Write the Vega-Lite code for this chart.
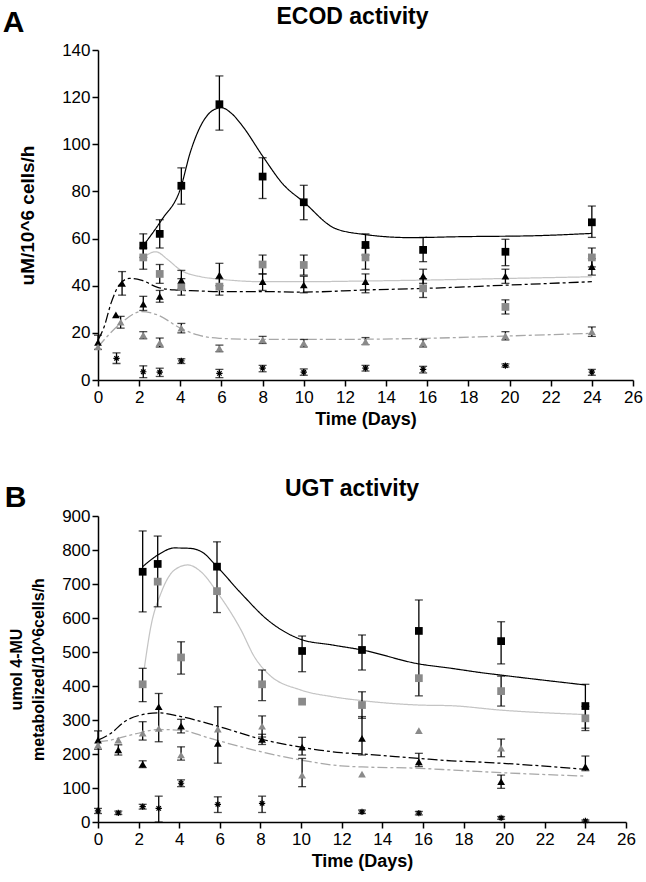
{
  "$schema": "https://vega.github.io/schema/vega-lite/v6.json",
  "background": "white",
  "padding": {"left": 2, "top": 6, "right": 0, "bottom": 5},
  "spacing": 50,
  "config": {
    "view": {"stroke": null},
    "font": "Liberation Sans",
    "title": {"font": "Liberation Sans", "fontWeight": "bold", "color": "black"},
    "axis": {
      "grid": false,
      "domainColor": "black",
      "domainWidth": 1.5,
      "tickColor": "black",
      "tickWidth": 1.5,
      "tickSize": 6,
      "labelFont": "Liberation Sans",
      "labelFontSize": 17,
      "labelColor": "black",
      "labelPadding": 2,
      "titleFont": "Liberation Sans",
      "titleFontWeight": "bold",
      "titleColor": "black"
    }
  },
  "datasets": {
    "ptsA": [
      {"s": "sqk", "d": 2.2, "v": 57, "lo": 52, "hi": 62},
      {"s": "sqk", "d": 3.0, "v": 62, "lo": 56, "hi": 68},
      {"s": "sqk", "d": 4.05, "v": 82.4, "lo": 74.6, "hi": 90},
      {"s": "sqk", "d": 5.9, "v": 117, "lo": 106, "hi": 129},
      {"s": "sqk", "d": 8.0, "v": 86.3, "lo": 77, "hi": 94.3},
      {"s": "sqk", "d": 10.0, "v": 75.4, "lo": 68, "hi": 82.6},
      {"s": "sqk", "d": 13.0, "v": 57.3, "lo": 53, "hi": 62},
      {"s": "sqk", "d": 15.8, "v": 55.2, "lo": 50.2, "hi": 60.5},
      {"s": "sqk", "d": 19.8, "v": 54.4, "lo": 48.5, "hi": 59.7},
      {"s": "sqk", "d": 24.0, "v": 66.9, "lo": 60.5, "hi": 73.8},
      {"s": "sqg", "d": 2.2, "v": 52, "lo": 47, "hi": 56},
      {"s": "sqg", "d": 3.0, "v": 45, "lo": 41, "hi": 49},
      {"s": "sqg", "d": 4.05, "v": 39.5, "lo": 36, "hi": 43},
      {"s": "sqg", "d": 5.9, "v": 39.6, "lo": 36, "hi": 43},
      {"s": "sqg", "d": 8.0, "v": 49, "lo": 45, "hi": 53},
      {"s": "sqg", "d": 10.0, "v": 48.8, "lo": 44.5, "hi": 53},
      {"s": "sqg", "d": 13.0, "v": 52, "lo": 47, "hi": 56},
      {"s": "sqg", "d": 15.8, "v": 38.9, "lo": 35, "hi": 43},
      {"s": "sqg", "d": 19.8, "v": 31, "lo": 28, "hi": 34},
      {"s": "sqg", "d": 24.0, "v": 52, "lo": 48, "hi": 56},
      {"s": "trk", "d": 0, "v": 16, "lo": 13, "hi": 19},
      {"s": "trk", "d": 0.87, "v": 27.6, "lo": null, "hi": null},
      {"s": "trk", "d": 1.17, "v": 41, "lo": 36, "hi": 46},
      {"s": "trk", "d": 2.2, "v": 32.2, "lo": 29.5, "hi": 35.5},
      {"s": "trk", "d": 3.0, "v": 35.5, "lo": 33, "hi": 38},
      {"s": "trk", "d": 4.05, "v": 42.4, "lo": 38.5, "hi": 46.5},
      {"s": "trk", "d": 5.9, "v": 44.5, "lo": 40, "hi": 49.5},
      {"s": "trk", "d": 8.0, "v": 41.7, "lo": 38, "hi": 45},
      {"s": "trk", "d": 10.0, "v": 40.3, "lo": 37, "hi": 44},
      {"s": "trk", "d": 13.0, "v": 41.7, "lo": 37, "hi": 45},
      {"s": "trk", "d": 15.8, "v": 44.1, "lo": 41, "hi": 47},
      {"s": "trk", "d": 19.8, "v": 44.1, "lo": 41, "hi": 47},
      {"s": "trk", "d": 24.0, "v": 48.1, "lo": 44.5, "hi": 51.5},
      {"s": "trg", "d": 0, "v": 14, "lo": null, "hi": null},
      {"s": "trg", "d": 1.1, "v": 24.5, "lo": 22, "hi": 27},
      {"s": "trg", "d": 2.2, "v": 19, "lo": 17.5, "hi": 20.5},
      {"s": "trg", "d": 3.0, "v": 15.8, "lo": 14, "hi": 17.8},
      {"s": "trg", "d": 4.05, "v": 22, "lo": 20, "hi": 24},
      {"s": "trg", "d": 5.9, "v": 13.4, "lo": 12, "hi": 14.8},
      {"s": "trg", "d": 8.0, "v": 17, "lo": 15.5, "hi": 18.5},
      {"s": "trg", "d": 10.0, "v": 15.6, "lo": 14, "hi": 17.2},
      {"s": "trg", "d": 13.0, "v": 16.3, "lo": 15, "hi": 18},
      {"s": "trg", "d": 15.8, "v": 15.6, "lo": 14, "hi": 17.2},
      {"s": "trg", "d": 19.8, "v": 18.7, "lo": 17, "hi": 20.5},
      {"s": "trg", "d": 24.0, "v": 20.5, "lo": 18.5, "hi": 22.5},
      {"s": "st", "d": 0.9, "v": 9.2, "lo": 7, "hi": 11.5},
      {"s": "st", "d": 2.2, "v": 3.5, "lo": 1, "hi": 6},
      {"s": "st", "d": 3.0, "v": 3.3, "lo": 1.5, "hi": 5},
      {"s": "st", "d": 4.05, "v": 8.1, "lo": 7, "hi": 9},
      {"s": "st", "d": 5.9, "v": 2.8, "lo": 1, "hi": 4.5},
      {"s": "st", "d": 8.0, "v": 5, "lo": 3.5, "hi": 6.2},
      {"s": "st", "d": 10.0, "v": 3.3, "lo": 2, "hi": 4.7},
      {"s": "st", "d": 13.0, "v": 5, "lo": 3.8, "hi": 6.2},
      {"s": "st", "d": 15.8, "v": 4.5, "lo": 3, "hi": 5.8},
      {"s": "st", "d": 19.8, "v": 6.1, "lo": 5.5, "hi": 6.8},
      {"s": "st", "d": 24.0, "v": 3.3, "lo": 2, "hi": 4.5}
    ],
    "curA": [
      {"s": "fsqk", "d": 2.2, "v": 57},
      {"s": "fsqk", "d": 3.1, "v": 68},
      {"s": "fsqk", "d": 4.0, "v": 81},
      {"s": "fsqk", "d": 4.5, "v": 97},
      {"s": "fsqk", "d": 5.0, "v": 108},
      {"s": "fsqk", "d": 5.6, "v": 114.5},
      {"s": "fsqk", "d": 6.0, "v": 115.5},
      {"s": "fsqk", "d": 6.5, "v": 113},
      {"s": "fsqk", "d": 7.0, "v": 108},
      {"s": "fsqk", "d": 8.0, "v": 95},
      {"s": "fsqk", "d": 9.0, "v": 83},
      {"s": "fsqk", "d": 10.0, "v": 75.5},
      {"s": "fsqk", "d": 11.5, "v": 64.4},
      {"s": "fsqk", "d": 12.9, "v": 61.8},
      {"s": "fsqk", "d": 15.2, "v": 60.4},
      {"s": "fsqk", "d": 17.6, "v": 60.8},
      {"s": "fsqk", "d": 21.2, "v": 61.2},
      {"s": "fsqk", "d": 24.0, "v": 62.2},
      {"s": "fsqg", "d": 2.2, "v": 52},
      {"s": "fsqg", "d": 2.8, "v": 54.4},
      {"s": "fsqg", "d": 3.4, "v": 51},
      {"s": "fsqg", "d": 4.0, "v": 46.7},
      {"s": "fsqg", "d": 5.0, "v": 43.8},
      {"s": "fsqg", "d": 5.9, "v": 42.8},
      {"s": "fsqg", "d": 8.0, "v": 41.7},
      {"s": "fsqg", "d": 10.0, "v": 41.7},
      {"s": "fsqg", "d": 13.0, "v": 42},
      {"s": "fsqg", "d": 16.0, "v": 42.4},
      {"s": "fsqg", "d": 20.0, "v": 43.1},
      {"s": "fsqg", "d": 24.0, "v": 43.8},
      {"s": "ftrk", "d": 0, "v": 17},
      {"s": "ftrk", "d": 0.3, "v": 22.6},
      {"s": "ftrk", "d": 0.63, "v": 32.5},
      {"s": "ftrk", "d": 1.03, "v": 40.3},
      {"s": "ftrk", "d": 1.52, "v": 43.1},
      {"s": "ftrk", "d": 2.09, "v": 42.4},
      {"s": "ftrk", "d": 2.9, "v": 39.3},
      {"s": "ftrk", "d": 3.7, "v": 38.2},
      {"s": "ftrk", "d": 4.85, "v": 37.8},
      {"s": "ftrk", "d": 6.0, "v": 37.5},
      {"s": "ftrk", "d": 8.0, "v": 37.5},
      {"s": "ftrk", "d": 10.0, "v": 37.3},
      {"s": "ftrk", "d": 13.0, "v": 38.2},
      {"s": "ftrk", "d": 16.0, "v": 38.9},
      {"s": "ftrk", "d": 20.0, "v": 40.3},
      {"s": "ftrk", "d": 24.0, "v": 41.7},
      {"s": "ftrg", "d": 0, "v": 14},
      {"s": "ftrg", "d": 0.5, "v": 19},
      {"s": "ftrg", "d": 1.1, "v": 24},
      {"s": "ftrg", "d": 2.1, "v": 29},
      {"s": "ftrg", "d": 2.9, "v": 27.6},
      {"s": "ftrg", "d": 4.0, "v": 22},
      {"s": "ftrg", "d": 4.85, "v": 19.1},
      {"s": "ftrg", "d": 5.9, "v": 17.7},
      {"s": "ftrg", "d": 8.0, "v": 17.2},
      {"s": "ftrg", "d": 10.0, "v": 17.2},
      {"s": "ftrg", "d": 13.0, "v": 17.3},
      {"s": "ftrg", "d": 16.0, "v": 17.7},
      {"s": "ftrg", "d": 20.0, "v": 18.7},
      {"s": "ftrg", "d": 24.0, "v": 19.8}
    ],
    "ptsB": [
      {"s": "sqk", "d": 2.2, "v": 736, "lo": 618, "hi": 856},
      {"s": "sqk", "d": 2.94, "v": 759, "lo": 633, "hi": 841},
      {"s": "sqk", "d": 5.86, "v": 751, "lo": 616, "hi": 824},
      {"s": "sqk", "d": 10.05, "v": 503, "lo": 442, "hi": 547},
      {"s": "sqk", "d": 13.0, "v": 506, "lo": 447, "hi": 550},
      {"s": "sqk", "d": 15.8, "v": 562, "lo": 371, "hi": 653},
      {"s": "sqk", "d": 19.85, "v": 532, "lo": 465, "hi": 589},
      {"s": "sqk", "d": 24.0, "v": 341, "lo": 269, "hi": 405},
      {"s": "sqg", "d": 2.2, "v": 405, "lo": 354, "hi": 452},
      {"s": "sqg", "d": 2.94, "v": 707, "lo": null, "hi": null},
      {"s": "sqg", "d": 4.09, "v": 484, "lo": 435, "hi": 530},
      {"s": "sqg", "d": 5.86, "v": 679, "lo": null, "hi": null},
      {"s": "sqg", "d": 8.08, "v": 405, "lo": 357, "hi": 447},
      {"s": "sqg", "d": 10.05, "v": 354, "lo": null, "hi": null},
      {"s": "sqg", "d": 13.0, "v": 344, "lo": 305, "hi": 383},
      {"s": "sqg", "d": 15.8, "v": 423, "lo": null, "hi": null},
      {"s": "sqg", "d": 19.85, "v": 385, "lo": 341, "hi": 429},
      {"s": "sqg", "d": 24.0, "v": 305, "lo": 276, "hi": 340},
      {"s": "trk", "d": 0, "v": 241, "lo": 214, "hi": 268},
      {"s": "trk", "d": 1.0, "v": 212, "lo": 197, "hi": 227},
      {"s": "trk", "d": 2.2, "v": 170, "lo": 160, "hi": 180},
      {"s": "trk", "d": 2.99, "v": 339, "lo": 236, "hi": 378},
      {"s": "trk", "d": 4.09, "v": 282, "lo": 262, "hi": 302},
      {"s": "trk", "d": 5.9, "v": 231, "lo": 173, "hi": 339},
      {"s": "trk", "d": 8.08, "v": 243, "lo": 228, "hi": 258},
      {"s": "trk", "d": 10.05, "v": 220, "lo": 197, "hi": 249},
      {"s": "trk", "d": 13.0, "v": 246, "lo": 197, "hi": 310},
      {"s": "trk", "d": 15.8, "v": 177, "lo": 163, "hi": 202},
      {"s": "trk", "d": 19.85, "v": 119, "lo": 99, "hi": 138},
      {"s": "trk", "d": 24.0, "v": 163, "lo": 151, "hi": 194},
      {"s": "trg", "d": 0, "v": 226, "lo": null, "hi": null},
      {"s": "trg", "d": 1.0, "v": 241, "lo": null, "hi": null},
      {"s": "trg", "d": 2.2, "v": 261, "lo": 241, "hi": 295},
      {"s": "trg", "d": 2.99, "v": 275, "lo": null, "hi": null},
      {"s": "trg", "d": 4.09, "v": 197, "lo": 182, "hi": 221},
      {"s": "trg", "d": 5.9, "v": 273, "lo": null, "hi": null},
      {"s": "trg", "d": 8.08, "v": 282, "lo": 250, "hi": 312},
      {"s": "trg", "d": 10.05, "v": 138, "lo": 104, "hi": 187},
      {"s": "trg", "d": 13.0, "v": 141, "lo": null, "hi": null},
      {"s": "trg", "d": 15.8, "v": 269, "lo": null, "hi": null},
      {"s": "trg", "d": 19.85, "v": 217, "lo": 192, "hi": 244},
      {"s": "st", "d": 0, "v": 33, "lo": 25, "hi": 40},
      {"s": "st", "d": 1.0, "v": 27, "lo": 22, "hi": 32},
      {"s": "st", "d": 2.2, "v": 45, "lo": 38, "hi": 52},
      {"s": "st", "d": 2.99, "v": 40, "lo": 0, "hi": 76},
      {"s": "st", "d": 4.09, "v": 114, "lo": 104, "hi": 124},
      {"s": "st", "d": 5.9, "v": 52, "lo": 28, "hi": 74},
      {"s": "st", "d": 8.08, "v": 55, "lo": 28, "hi": 76},
      {"s": "st", "d": 13.0, "v": 30, "lo": 25, "hi": 35},
      {"s": "st", "d": 15.8, "v": 26, "lo": 21, "hi": 31},
      {"s": "st", "d": 19.85, "v": 12, "lo": 8, "hi": 16},
      {"s": "st", "d": 24.0, "v": 3, "lo": 0, "hi": 6}
    ],
    "curB": [
      {"s": "fsqk", "d": 2.2, "v": 751},
      {"s": "fsqk", "d": 2.94, "v": 785},
      {"s": "fsqk", "d": 3.76, "v": 806},
      {"s": "fsqk", "d": 4.5, "v": 805},
      {"s": "fsqk", "d": 5.1, "v": 795},
      {"s": "fsqk", "d": 5.86, "v": 751},
      {"s": "fsqk", "d": 7.04, "v": 673},
      {"s": "fsqk", "d": 8.36, "v": 594},
      {"s": "fsqk", "d": 10.0, "v": 537},
      {"s": "fsqk", "d": 11.5, "v": 521},
      {"s": "fsqk", "d": 13.0, "v": 506},
      {"s": "fsqk", "d": 15.8, "v": 465},
      {"s": "fsqk", "d": 17.4, "v": 452},
      {"s": "fsqk", "d": 18.9, "v": 439},
      {"s": "fsqk", "d": 19.85, "v": 432},
      {"s": "fsqk", "d": 24.0, "v": 403},
      {"s": "fsqg", "d": 2.28, "v": 452},
      {"s": "fsqg", "d": 2.6, "v": 574},
      {"s": "fsqg", "d": 3.1, "v": 673},
      {"s": "fsqg", "d": 3.76, "v": 741},
      {"s": "fsqg", "d": 4.42, "v": 756},
      {"s": "fsqg", "d": 5.07, "v": 736},
      {"s": "fsqg", "d": 5.9, "v": 673},
      {"s": "fsqg", "d": 7.04, "v": 565},
      {"s": "fsqg", "d": 7.7, "v": 486},
      {"s": "fsqg", "d": 8.36, "v": 437},
      {"s": "fsqg", "d": 10.0, "v": 388},
      {"s": "fsqg", "d": 11.5, "v": 369},
      {"s": "fsqg", "d": 13.0, "v": 357},
      {"s": "fsqg", "d": 15.8, "v": 344},
      {"s": "fsqg", "d": 17.4, "v": 342},
      {"s": "fsqg", "d": 19.85, "v": 329},
      {"s": "fsqg", "d": 24.0, "v": 316},
      {"s": "ftrk", "d": 0, "v": 241},
      {"s": "ftrk", "d": 0.64, "v": 261},
      {"s": "ftrk", "d": 1.3, "v": 295},
      {"s": "ftrk", "d": 2.12, "v": 315},
      {"s": "ftrk", "d": 2.94, "v": 321},
      {"s": "ftrk", "d": 4.09, "v": 310},
      {"s": "ftrk", "d": 5.4, "v": 290},
      {"s": "ftrk", "d": 6.0, "v": 280},
      {"s": "ftrk", "d": 8.08, "v": 243},
      {"s": "ftrk", "d": 10.0, "v": 220},
      {"s": "ftrk", "d": 11.97, "v": 204},
      {"s": "ftrk", "d": 13.0, "v": 200},
      {"s": "ftrk", "d": 15.8, "v": 187},
      {"s": "ftrk", "d": 17.4, "v": 180},
      {"s": "ftrk", "d": 18.9, "v": 176},
      {"s": "ftrk", "d": 24.0, "v": 155},
      {"s": "ftrg", "d": 0, "v": 236},
      {"s": "ftrg", "d": 0.64, "v": 241},
      {"s": "ftrg", "d": 1.3, "v": 251},
      {"s": "ftrg", "d": 2.12, "v": 263},
      {"s": "ftrg", "d": 2.94, "v": 272},
      {"s": "ftrg", "d": 4.09, "v": 270},
      {"s": "ftrg", "d": 5.4, "v": 248},
      {"s": "ftrg", "d": 6.0, "v": 238},
      {"s": "ftrg", "d": 8.0, "v": 207},
      {"s": "ftrg", "d": 10.0, "v": 182},
      {"s": "ftrg", "d": 11.97, "v": 165},
      {"s": "ftrg", "d": 13.0, "v": 162},
      {"s": "ftrg", "d": 15.8, "v": 158},
      {"s": "ftrg", "d": 17.4, "v": 153},
      {"s": "ftrg", "d": 18.9, "v": 148},
      {"s": "ftrg", "d": 24.0, "v": 135}
    ]
  },
  "vconcat": [
    {
      "title": {"text": "A", "anchor": "start", "frame": "bounds", "fontSize": 30, "dy": 36, "dx": -16},
      "vconcat": [
        {
          "title": {"text": "ECOD activity", "fontSize": 23, "anchor": "middle", "dx": -13, "offset": 12},
          "width": 535,
          "height": 330,
          "encoding": {
            "x": {"field": "d", "type": "quantitative", "title": "Time (Days)", "scale": {"domain": [0, 26], "nice": false},
                  "axis": {"values": [0,2,4,6,8,10,12,14,16,18,20,22,24,26], "titleFontSize": 18, "titlePadding": 5, "labelFlush": false, "labelPadding": 3}},
            "y": {"field": "v", "type": "quantitative", "title": "uM/10^6 cells/h", "scale": {"domain": [0, 140], "nice": false},
                  "axis": {"values": [0,20,40,60,80,100,120,140], "titleFontSize": 19, "titlePadding": 24}}
          },
          "layer": [
            {
              "data": {"name": "curA"},
              "mark": {"type": "line", "interpolate": "monotone"},
              "encoding": {
                "color": {"field": "s", "type": "nominal", "legend": null,
                          "scale": {"domain": ["sqk","sqg","trk","trg","st","fsqk","fsqg","ftrk","ftrg"], "range": ["black","#8a8a8a","black","#8a8a8a","black","black","#c4c4c4","black","#a8a8a8"]}},
                "strokeDash": {"field": "s", "type": "nominal", "legend": null,
                               "scale": {"domain": ["fsqk","fsqg","ftrk","ftrg"], "range": [[1,0],[1,0],[10,3,3,3],[10,3,3,3]]}},
                "strokeWidth": {"field": "s", "type": "nominal", "legend": null,
                                "scale": {"domain": ["fsqk","fsqg","ftrk","ftrg"], "range": [1.2,1.3,2.8,2.5]}}
              }
            },
            {
              "data": {"name": "ptsA"},
              "transform": [{"filter": "isValid(datum.lo)"}],
              "mark": {"type": "rule", "color": "black", "strokeWidth": 1.3},
              "encoding": {"y": {"field": "lo", "type": "quantitative", "title": "uM/10^6 cells/h"}, "y2": {"field": "hi"}}
            },
            {
              "data": {"name": "ptsA"},
              "transform": [{"filter": "isValid(datum.lo)"}],
              "mark": {"type": "tick", "orient": "horizontal", "size": 8, "thickness": 1.3, "color": "black"},
              "encoding": {"y": {"field": "lo", "type": "quantitative", "title": "uM/10^6 cells/h"}}
            },
            {
              "data": {"name": "ptsA"},
              "transform": [{"filter": "isValid(datum.hi)"}],
              "mark": {"type": "tick", "orient": "horizontal", "size": 8, "thickness": 1.3, "color": "black"},
              "encoding": {"y": {"field": "hi", "type": "quantitative", "title": "uM/10^6 cells/h"}}
            },
            {
              "data": {"name": "ptsA"},
              "transform": [{"filter": "datum.s != 'st'"}],
              "mark": {"type": "point", "filled": true, "opacity": 1},
              "encoding": {
                "shape": {"field": "s", "type": "nominal", "legend": null,
                          "scale": {"domain": ["sqk","sqg","trk","trg"], "range": ["square","square","triangle-up","triangle-up"]}},
                "size": {"field": "s", "type": "nominal", "legend": null,
                         "scale": {"domain": ["sqk","sqg","trk","trg"], "range": [60, 60, 85, 85]}},
                "color": {"field": "s", "type": "nominal", "legend": null}
              }
            },
            {
              "data": {"name": "ptsA"},
              "transform": [{"filter": "datum.s == 'st'"}],
              "mark": {"type": "point", "filled": false, "opacity": 1, "size": 40, "strokeWidth": 1.2, "color": "black",
                       "shape": "M-1,0L1,0M0,-1L0,1M-0.7,-0.7L0.7,0.7M-0.7,0.7L0.7,-0.7"},
              "encoding": {}
            }
          ]
        }
      ]
    },
    {
      "title": {"text": "B", "anchor": "start", "frame": "bounds", "fontSize": 30, "dy": 39, "dx": -4},
      "vconcat": [
        {
          "title": {"text": "UGT activity", "fontSize": 23, "anchor": "middle", "dx": -10, "offset": 6},
          "width": 528,
          "height": 306,
          "encoding": {
            "x": {"field": "d", "type": "quantitative", "title": "Time (Days)", "scale": {"domain": [0, 26], "nice": false},
                  "axis": {"values": [0,2,4,6,8,10,12,14,16,18,20,22,24,26], "titleFontSize": 18, "titlePadding": 5, "labelFlush": false, "labelPadding": 3}},
            "y": {"field": "v", "type": "quantitative", "title": ["umol 4-MU", "metabolized/10^6cells/h"], "scale": {"domain": [0, 900], "nice": false},
                  "axis": {"values": [0,100,200,300,400,500,600,700,800,900], "titleFontSize": 16, "titleLineHeight": 22, "titlePadding": 15}}
          },
          "layer": [
            {
              "data": {"name": "curB"},
              "mark": {"type": "line", "interpolate": "monotone"},
              "encoding": {
                "color": {"field": "s", "type": "nominal", "legend": null,
                          "scale": {"domain": ["sqk","sqg","trk","trg","st","fsqk","fsqg","ftrk","ftrg"], "range": ["black","#8a8a8a","black","#8a8a8a","black","black","#c4c4c4","black","#a8a8a8"]}},
                "strokeDash": {"field": "s", "type": "nominal", "legend": null,
                               "scale": {"domain": ["fsqk","fsqg","ftrk","ftrg"], "range": [[1,0],[1,0],[10,3,3,3],[10,3,3,3]]}},
                "strokeWidth": {"field": "s", "type": "nominal", "legend": null,
                                "scale": {"domain": ["fsqk","fsqg","ftrk","ftrg"], "range": [1.2,1.3,2.8,2.5]}}
              }
            },
            {
              "data": {"name": "ptsB"},
              "transform": [{"filter": "isValid(datum.lo)"}],
              "mark": {"type": "rule", "color": "black", "strokeWidth": 1.3},
              "encoding": {"y": {"field": "lo", "type": "quantitative", "title": ["umol 4-MU", "metabolized/10^6cells/h"]}, "y2": {"field": "hi"}}
            },
            {
              "data": {"name": "ptsB"},
              "transform": [{"filter": "isValid(datum.lo)"}],
              "mark": {"type": "tick", "orient": "horizontal", "size": 8, "thickness": 1.3, "color": "black"},
              "encoding": {"y": {"field": "lo", "type": "quantitative", "title": ["umol 4-MU", "metabolized/10^6cells/h"]}}
            },
            {
              "data": {"name": "ptsB"},
              "transform": [{"filter": "isValid(datum.hi)"}],
              "mark": {"type": "tick", "orient": "horizontal", "size": 8, "thickness": 1.3, "color": "black"},
              "encoding": {"y": {"field": "hi", "type": "quantitative", "title": ["umol 4-MU", "metabolized/10^6cells/h"]}}
            },
            {
              "data": {"name": "ptsB"},
              "transform": [{"filter": "datum.s != 'st'"}],
              "mark": {"type": "point", "filled": true, "opacity": 1},
              "encoding": {
                "shape": {"field": "s", "type": "nominal", "legend": null,
                          "scale": {"domain": ["sqk","sqg","trk","trg"], "range": ["square","square","triangle-up","triangle-up"]}},
                "size": {"field": "s", "type": "nominal", "legend": null,
                         "scale": {"domain": ["sqk","sqg","trk","trg"], "range": [60, 60, 85, 85]}},
                "color": {"field": "s", "type": "nominal", "legend": null}
              }
            },
            {
              "data": {"name": "ptsB"},
              "transform": [{"filter": "datum.s == 'st'"}],
              "mark": {"type": "point", "filled": false, "opacity": 1, "size": 40, "strokeWidth": 1.2, "color": "black",
                       "shape": "M-1,0L1,0M0,-1L0,1M-0.7,-0.7L0.7,0.7M-0.7,0.7L0.7,-0.7"},
              "encoding": {}
            }
          ]
        }
      ]
    }
  ]
}
